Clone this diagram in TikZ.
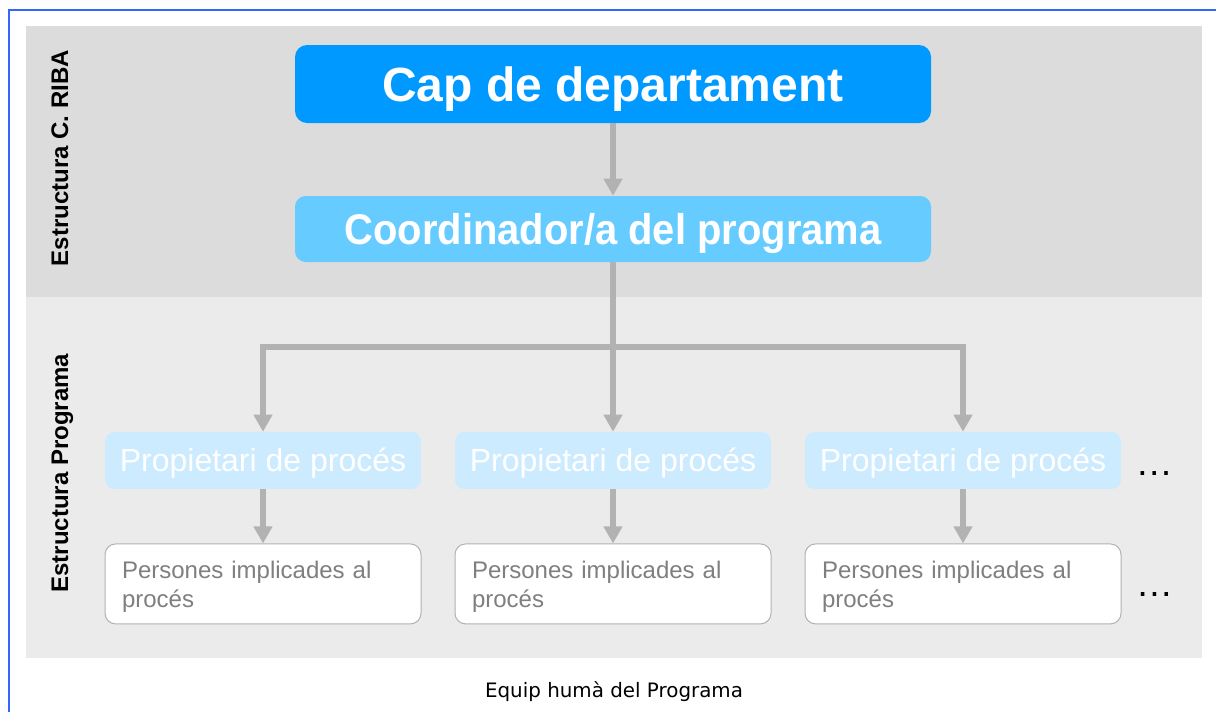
\documentclass[tikz,border=0pt]{standalone}
\usepackage{fontspec}
\setmainfont{Liberation Sans}
\newfontfamily\captionfont{DejaVu Sans}
\newfontfamily\narrowbold{Liberation Sans}[FakeStretch=0.93]
\usetikzlibrary{arrows.meta,positioning}
\definecolor{capblue}{HTML}{0099FF}
\definecolor{coordblue}{HTML}{66CCFF}
\definecolor{ownerblue}{HTML}{CCEBFF}
\definecolor{linkgray}{HTML}{B2B2B2}
\definecolor{peoplegray}{HTML}{7F7F7F}
\definecolor{uppergray}{HTML}{DCDCDC}
\definecolor{lowergray}{HTML}{EBEBEB}
\definecolor{frameblue}{HTML}{3366FF}
\begin{document}
\begin{tikzpicture}
[
    x=0.75pt, y=0.75pt,
    capbox/.style={fill=capblue, rounded corners=9pt, minimum width=477pt, minimum height=58.5pt, text=white, font=\fontsize{36}{40}\selectfont\bfseries, text height=25.8pt, text depth=0pt},
    coordbox/.style={fill=coordblue, rounded corners=8pt, minimum width=477pt, minimum height=49.5pt, text=white, font=\narrowbold\fontsize{32.2}{36}\selectfont\bfseries, text height=23pt, text depth=0pt},
    ownerbox/.style={fill=ownerblue, rounded corners=7pt, minimum width=237pt, minimum height=42.75pt, text=white, font=\fontsize{24}{28}\selectfont, text height=17.2pt, text depth=0pt},
    peoplebox/.style={draw=linkgray, line width=0.75pt, fill=white, rounded corners=8pt, text width=211.5pt, inner xsep=12.75pt, minimum height=60pt, align=left, text=peoplegray, font=\fontsize{18}{21.5}\selectfont, execute at begin node=\rule{0pt}{17.6pt}},
    sidelabel/.style={rotate=90, font=\fontsize{18}{22}\selectfont\bfseries, anchor=base},
    moredots/.style={font=\fontsize{28}{32}\selectfont, inner sep=0pt},
    edge from parent/.style={draw, linkgray, line width=4.5pt, -{Triangle[width=13.5pt, length=12.75pt]}},
    level 1/.style={level distance=108.75pt},
    level 2/.style={level distance=173.6pt, sibling distance=262.5pt,
        edge from parent path={(\tikzparentnode.south) -- ++(0,-85) -| (\tikzchildnode.north)}},
    level 3/.style={level distance=92.6pt,
        edge from parent path={(\tikzparentnode.south) -- (\tikzchildnode.north)}},
]
\useasboundingbox (0,0) rectangle (1216,-711);
\fill[uppergray] (26,-26) rectangle (1202,-297);
\fill[lowergray] (26,-297) rectangle (1202,-658);
\draw[frameblue, line width=1.5pt] (9,-730) -- (9,-10) -- (1230,-10);

\node[capbox] (cap) at (613,-84) {Cap de departament}
    child {node[coordbox] (coord) {Coordinador/a del programa}
    child {node[ownerbox] (own1) {Propietari de procés}
    child {node[peoplebox] (people1) {Persones implicades al\\procés}
}}    child {node[ownerbox] (own2) {Propietari de procés}
    child {node[peoplebox] (people2) {Persones implicades al\\procés}
}}    child {node[ownerbox] (own3) {Propietari de procés}
    child {node[peoplebox] (people3) {Persones implicades al\\procés}
}}};

\node[moredots, right=10.5pt of own3, anchor=base west, yshift=-11pt] (more1) {…};
\node[moredots, right=10.5pt of people3, anchor=base west, yshift=-9.75pt] (more2) {…};

\node[sidelabel] (upperlabel) at (68,-158) {Estructura C. RIBA};
\node[sidelabel] (lowerlabel) at (68,-473) {Estructura Programa};
\node[font=\captionfont\fontsize{14.9}{18}\selectfont, anchor=base] (caption) at (614,-697) {Equip humà del Programa};
\end{tikzpicture}
\end{document}
